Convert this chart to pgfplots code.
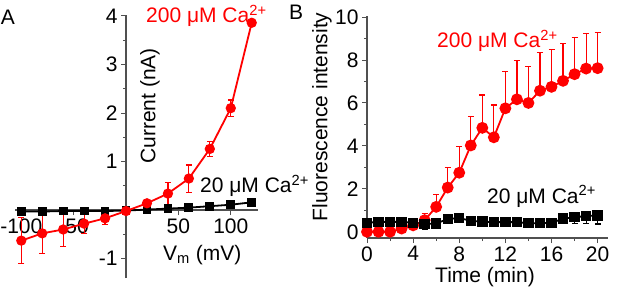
\documentclass[border=0pt]{standalone}
\usepackage{pgfplots}
\pgfplotsset{compat=1.18}
\usepackage{fontspec}
\setmainfont{Liberation Sans}
\newcommand\bigf{\fontsize{21}{24}\selectfont}
\definecolor{axgray}{RGB}{80,80,80}
\begin{document}
\begin{tikzpicture}[x=1pt,y=1pt]
\useasboundingbox (0,0) rectangle (617,289);
% ---------------- Panel A ----------------
\begin{axis}[
  at={(15pt,11pt)}, anchor=south west,
  scale only axis, width=243pt, height=263pt,
  xmin=-106, xmax=126, ymin=-1.40, ymax=4.02,
  axis lines=middle, axis line style={-, line width=1.2pt, axgray},
  xtick={-100,-50,50,100}, ytick={-1,1,2,3,4},
  minor ytick={-0.5,0.5,1.5,2.5,3.5},
  tick align=outside, major tick length=5pt, minor tick length=3pt,
  tick style={line width=1pt, axgray},
  tick label style={font=\bigf},
  /pgf/number format/assume math mode=true,
  clip=false,
]
\addplot+[black, line width=1.8pt, mark=square*, mark size=3.5pt, mark options={solid, fill=black}]
  coordinates {(-100,-0.03) (-80,-0.03) (-60,-0.02) (-40,-0.02) (-20,-0.02) (0,-0.01) (20,0.01) (40,0.03) (60,0.05) (80,0.08) (100,0.11) (120,0.16)};
\addplot+[red, line width=1.8pt, mark=*, mark size=4.2pt, mark options={solid, fill=red},
  error bars/.cd, y dir=both, y explicit, error mark=-,
  error bar style={line width=1.2pt, red}, error mark options={rotate=90, line width=1.2pt, mark size=3pt, red}]
  coordinates {
  (-100,-0.63) +- (0,0.47)
  (-80,-0.48) +- (0,0.42)
  (-60,-0.40) +- (0,0.35)
  (-40,-0.28) +- (0,0.20)
  (-20,-0.17) +- (0,0.12)
  (0,-0.02) +- (0,0)
  (20,0.14) +- (0,0.03)
  (40,0.34) +- (0,0.22)
  (60,0.65) +- (0,0.28)
  (80,1.26) +- (0,0.16)
  (100,2.10) +- (0,0.17)
  (120,3.86) +- (0,0)};
\end{axis}
\node[font=\bigf, anchor=center] at (8,272) {A};
\node[font=\bigf, anchor=base west, text=red, inner sep=0pt] at (146,266) {200 μM Ca\textsuperscript{2+}};
\node[font=\bigf, anchor=base west, inner sep=0pt] at (200,96) {20 μM Ca\textsuperscript{2+}};
\node[font=\bigf, rotate=90, anchor=center, inner sep=0pt] at (150,183) {Current (nA)};
\node[font=\bigf, anchor=base west, inner sep=0pt] at (163,29) {V\textsubscript{m} (mV)};
% ---------------- Panel B ----------------
\begin{axis}[
  at={(367pt,51pt)}, anchor=south west,
  scale only axis, width=241pt, height=222pt,
  xmin=0, xmax=20.9, ymin=-0.29, ymax=10.05,
  axis lines=left, axis line style={-, line width=1.2pt, axgray},
  xtick={0,4,...,20}, minor x tick num=1,
  ytick={0,2,...,10}, minor y tick num=1,
  tick align=outside, major tick length=5pt, minor tick length=3pt,
  tick style={line width=1pt, axgray},
  tick label style={font=\bigf},
  /pgf/number format/assume math mode=true,
  clip=false,
]
\addplot+[red, line width=1.8pt, mark=*, mark size=5pt, mark options={solid, fill=red},
  error bars/.cd, y dir=plus, y explicit, error mark=-,
  error bar style={line width=1.2pt, red}, error mark options={rotate=90, line width=1.2pt, mark size=3pt, red}]
  coordinates {
  (0,0) +- (0,0)
  (1,0) +- (0,0)
  (2,0) +- (0,0)
  (3,0.15) +- (0,0)
  (4,0.30) +- (0,0)
  (5,0.54) +- (0,0.30)
  (6,1.16) +- (0,0.57)
  (7,2.06) +- (0,0.94)
  (8,2.75) +- (0,1.22)
  (9,4.02) +- (0,1.34)
  (10,4.84) +- (0,1.53)
  (11,4.40) +- (0,1.50)
  (12,5.75) +- (0,1.70)
  (13,6.17) +- (0,1.79)
  (14,6.00) +- (0,1.68)
  (15,6.57) +- (0,1.78)
  (16,6.75) +- (0,1.75)
  (17,7.03) +- (0,1.73)
  (18,7.34) +- (0,1.70)
  (19,7.60) +- (0,1.64)
  (20,7.62) +- (0,1.65)};
\addplot+[black, line width=1.8pt, mark=square*, mark size=4.3pt, mark options={solid, fill=black},
  error bars/.cd, y dir=minus, y explicit, error mark=-,
  error bar style={line width=1.2pt, black}, error mark options={rotate=90, line width=1.2pt, mark size=3pt, black}]
  coordinates {
  (0,0.42) +- (0,0.05)
  (1,0.46) +- (0,0.05)
  (2,0.46) +- (0,0.05)
  (3,0.46) +- (0,0.10)
  (4,0.42) +- (0,0.25)
  (5,0.36) +- (0,0.25)
  (6,0.39) +- (0,0.25)
  (7,0.59) +- (0,0.15)
  (8,0.64) +- (0,0.15)
  (9,0.51) +- (0,0.15)
  (10,0.47) +- (0,0.12)
  (11,0.45) +- (0,0.12)
  (12,0.45) +- (0,0.15)
  (13,0.45) +- (0,0.15)
  (14,0.40) +- (0,0.15)
  (15,0.40) +- (0,0.15)
  (16,0.42) +- (0,0.10)
  (17,0.61) +- (0,0.20)
  (18,0.68) +- (0,0.30)
  (19,0.73) +- (0,0.35)
  (20,0.76) +- (0,0.40)};
\end{axis}
\node[font=\bigf, anchor=center] at (296,277) {B};
\node[font=\bigf, rotate=90, anchor=center, inner sep=0pt] at (322,172) {Fluorescence intensity};
\node[font=\bigf, anchor=base, inner sep=0pt] at (485,7) {Time (min)};
\node[font=\bigf, anchor=base west, text=red, inner sep=0pt] at (437,241) {200 μM Ca\textsuperscript{2+}};
\node[font=\bigf, anchor=base west, inner sep=0pt] at (487,86) {20 μM Ca\textsuperscript{2+}};
\end{tikzpicture}
\end{document}
